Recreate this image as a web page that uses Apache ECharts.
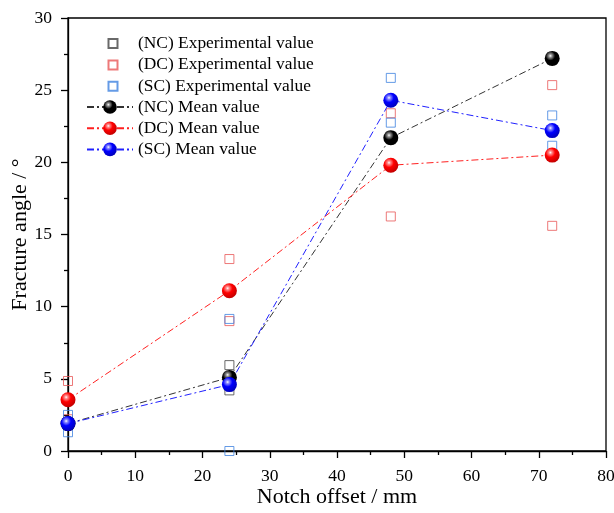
<!DOCTYPE html>
<html><head><meta charset="utf-8">
<script src="https://cdn.jsdelivr.net/npm/echarts@6/dist/echarts.min.js"></script>
<style>html,body{margin:0;padding:0;background:#fff}#c{width:614px;height:513px}</style>
</head><body><div id="c"></div>
<script>
const offsets = [0, 24, 48, 72];
const ncExp = [[0,1.8],[0,2.0],[24,5.95],[24,4.2],[48,21.6],[48,21.8],[72,27.1],[72,27.3]];
const dcExp = [[0,4.85],[0,2.2],[24,13.3],[24,9.0],[48,23.4],[48,16.25],[72,25.35],[72,15.6]];
const scExp = [[0,2.5],[0,1.3],[24,9.15],[24,0.0],[48,25.85],[48,22.75],[72,23.25],[72,21.15]];
const ncMean = [1.9, 5.1, 21.7, 27.2];
const dcMean = [3.55, 11.1, 19.8, 20.5];
const scMean = [1.9, 4.6, 24.3, 22.2];
const names = ['(NC) Experimental value','(DC) Experimental value','(SC) Experimental value','(NC) Mean value','(DC) Mean value','(SC) Mean value'];

const FONT = 'Liberation Serif';
function ball(main, dark, light){
  return {type:'radial', x:0.38, y:0.33, r:0.7, colorStops:[
    {offset:0,color:'#ffffff'},{offset:0.14,color:light},{offset:0.45,color:main},{offset:1,color:dark}]};
}
const dashDot = [7,3,2,3];
function pairs(vals){ return offsets.map((x,i)=>[x, vals[i]]); }
const squareIcon = 'path://M0,0L0,0M21.5,0L30.5,0L30.5,9L21.5,9ZM46,9L46,9';

const chart = echarts.init(document.getElementById('c'), null, {renderer:'canvas'});
const axisCommon = {
  axisLine:{show:true, onZero:false, lineStyle:{color:'#000', width:1.3}},
  axisTick:{show:true, inside:false, length:7, lineStyle:{color:'#000', width:1.3}},
  minorTick:{show:true, splitNumber:2, length:4, lineStyle:{color:'#000', width:1.3}},
  splitLine:{show:false},
  nameMoveOverlap:false,
  axisLabel:{color:'#000', fontFamily:FONT, fontSize:17.5},
  nameTextStyle:{color:'#000', fontFamily:FONT, fontSize:22}
};
const legText = {fontFamily:FONT, fontSize:17.4, color:'#000'};
chart.setOption({
  animation:false,
  backgroundColor:'#fff',
  grid:{left:68, right:8, top:18, bottom:62, show:true, borderColor:'#000', borderWidth:1.3,
        containLabel:false, outerBoundsMode:'none'},
  xAxis:Object.assign({type:'value', min:0, max:80, interval:10, name:'Notch offset / mm', nameLocation:'middle', nameGap:35}, axisCommon, {axisLabel:Object.assign({}, axisCommon.axisLabel, {margin:16})}),
  yAxis:Object.assign({type:'value', min:0, max:30, interval:5, name:'Fracture angle / °', nameLocation:'middle', nameGap:37}, axisCommon, {axisLabel:Object.assign({}, axisCommon.axisLabel, {margin:16})}),
  legend:[
    {data:names.slice(0,3).map(n=>({name:n, icon:squareIcon})), orient:'vertical', left:86, top:35, padding:0,
     itemWidth:46, itemHeight:9, itemGap:4.4, symbolKeepAspect:false, textStyle:legText},
    {data:names.slice(3), orient:'vertical', left:86, top:98.5, padding:0,
     itemWidth:46, itemHeight:17, itemGap:4.2, textStyle:legText}
  ],
  series:[
    {name:names[0], type:'scatter', symbol:'rect', symbolSize:9, data:ncExp, z:2,
     itemStyle:{color:'rgba(255,255,255,0)', borderColor:'#444444', borderWidth:1}},
    {name:names[1], type:'scatter', symbol:'rect', symbolSize:9, data:dcExp, z:2,
     itemStyle:{color:'rgba(255,255,255,0)', borderColor:'#e85858', borderWidth:1}},
    {name:names[2], type:'scatter', symbol:'rect', symbolSize:9, data:scExp, z:2,
     itemStyle:{color:'rgba(255,255,255,0)', borderColor:'#3f82e0', borderWidth:1}},
    {name:names[3], type:'line', symbol:'circle', symbolSize:15, data:pairs(ncMean), z:3,
     lineStyle:{color:'#333333', width:1, type:dashDot},
     itemStyle:{color:ball('#000000','#000000','#9a9a9a')}},
    {name:names[4], type:'line', symbol:'circle', symbolSize:15, data:pairs(dcMean), z:3,
     lineStyle:{color:'#ff2020', width:1, type:dashDot},
     itemStyle:{color:ball('#ff0000','#c00000','#ff9090')}},
    {name:names[5], type:'line', symbol:'circle', symbolSize:15, data:pairs(scMean), z:3,
     lineStyle:{color:'#2020ff', width:1, type:dashDot},
     itemStyle:{color:ball('#0000ff','#0000b8','#9090ff')}}
  ]
});
</script></body></html>
